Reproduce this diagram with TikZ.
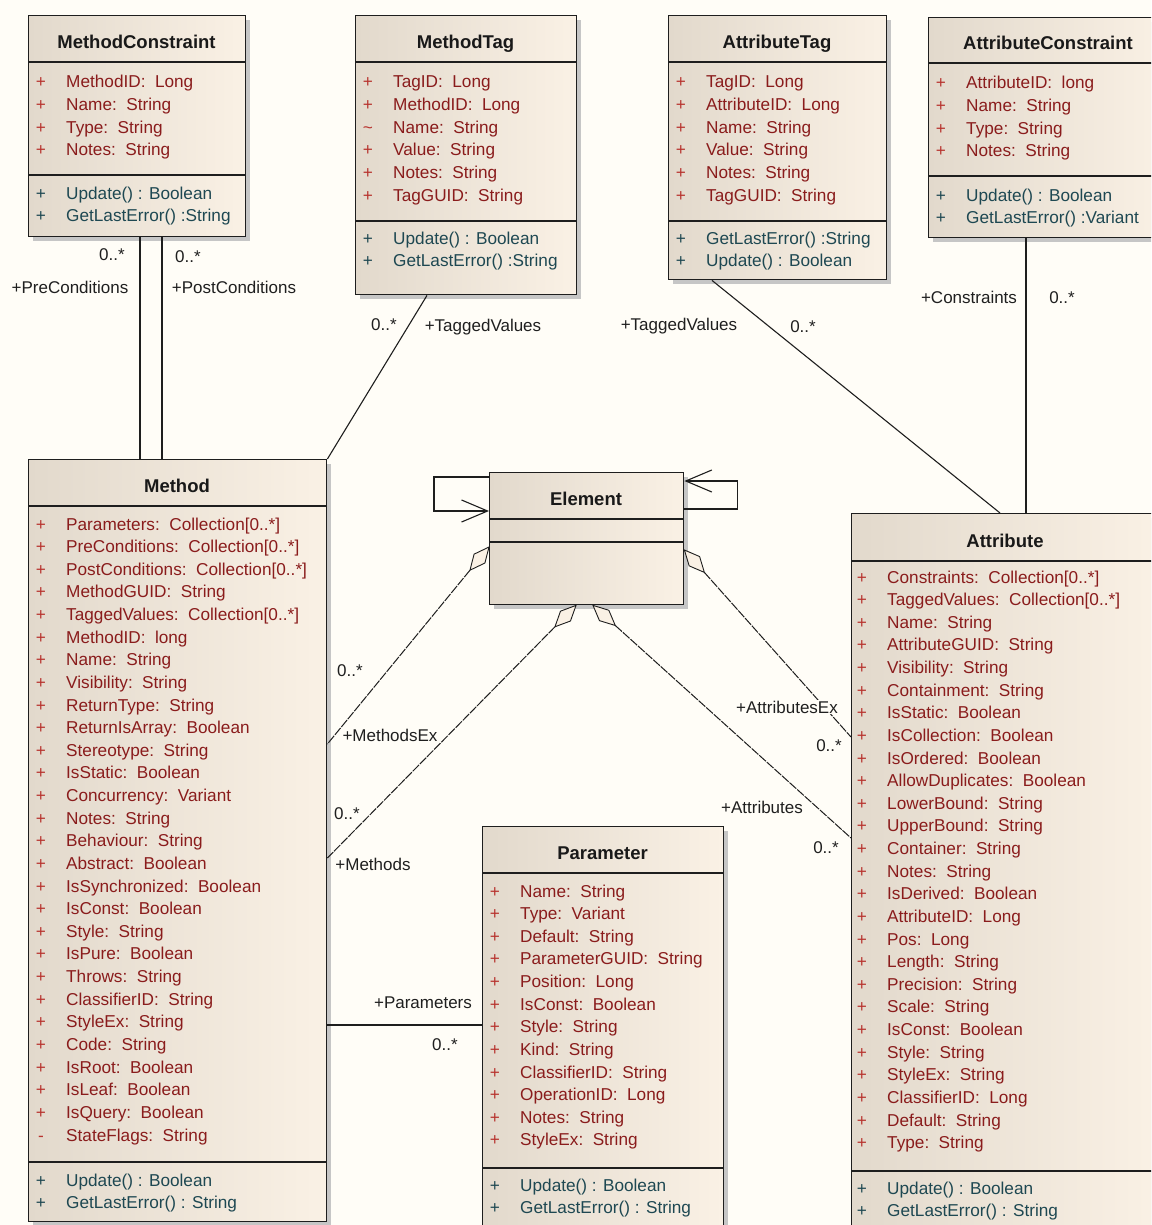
\documentclass[tikz,border=0pt]{standalone}
\usepackage{fontspec}
\setmainfont{Liberation Sans}
\usetikzlibrary{calc,arrows.meta}
\definecolor{bgc}{HTML}{FFFDF7}
\definecolor{boxL}{HTML}{E2D9CC}
\definecolor{boxR}{HTML}{FAF1E5}
\definecolor{attrc}{HTML}{8A1C1C}
\definecolor{attrp}{HTML}{B8332E}
\definecolor{opc}{HTML}{1E4852}
\definecolor{shadowc}{HTML}{C6C6C6}
\definecolor{linec}{HTML}{1E1E1E}
\newcommand{\tsep}{:\hspace{0.55em}}
% #1 name, #2 left, #3 top, #4 right, #5 bottom, #6 title, #7 header line y, #8 separator y
\newcommand{\umlclass}[8]{%
  \fill[shadowc] ({#2+5},{#3+5}) rectangle ({#4+5},{#5+5});
  \node[classbox, anchor=north west, minimum width={(#4-#2)*1pt}, minimum height={(#5-#3)*1pt}] (#1) at (#2,#3) {};
  \draw[sepline] (#2,#7) -- (#4,#7);
  \draw[sepline] (#2,#8) -- (#4,#8);
  \node[titletext] (#1-title) at ({(#2+#4)/2},{(#3+#7)/2+10}) {#6};
}
% #1 left x, #2 first centre y, #3 text colour, #4 mark colour, #5 list
\newcommand{\umlmembers}[5]{%
  \foreach \mvis/\mtxt [count=\mi from 0] in {#5}{
    \node[mtext,text=#4,anchor=base] at ({#1+13},{#2+6+22.63*\mi}) {\mvis};
    \node[mtext,text=#3,anchor=base west] at ({#1+38},{#2+6+22.63*\mi}) {\mtxt};
  }}
\newcommand{\aggr}[3]{%
  \coordinate (#3m) at ($(#1)!15pt!(#2)$);
  \coordinate (#3e) at ($(#1)!30pt!(#2)$);
  \draw[aggline] (#3e) -- (#2);
  \draw[diam] (#1) -- ($(#3m)!7pt!90:(#2)$) -- (#3e) -- ($(#3m)!7pt!-90:(#2)$) -- cycle;
}
\begin{document}
\begin{tikzpicture}[x=1pt,y=-1pt,
  classbox/.style={draw=linec, line width=1.4pt, left color=boxL, right color=boxR, inner sep=0pt},
  sepline/.style={draw=linec, line width=1.2pt},
  titletext/.style={anchor=base, inner sep=0pt, text=black!90, font=\fontsize{18.5}{21}\selectfont\bfseries},
  mtext/.style={inner sep=0pt, font=\fontsize{17.2}{19}\selectfont},
  conn/.style={draw=linec, line width=1.1pt},
  aggline/.style={draw=linec, line width=1pt, dash pattern=on 9pt off 1.2pt},
  diam/.style={draw=linec, line width=0.9pt, fill=boxR},
  lbl/.style={inner sep=1pt, fill=bgc, text=black!88, font=\fontsize{17}{19}\selectfont},
  barb/.style={-{Straight Barb[length=26pt,width=22pt]}}
]
\useasboundingbox (0,0) rectangle (1151,1225);
\fill[bgc] (0,0) rectangle (1151,1225);
\begin{scope}
\clip (0,0) rectangle (1151,1225);

% ---------- classes ----------
\umlclass{mc}{28}{15}{245}{236}{MethodConstraint}{62}{175}
\umlmembers{28}{82}{attrc}{attrp}{{+}/{MethodID\tsep Long},{+}/{Name\tsep String},{+}/{Type\tsep String},{+}/{Notes\tsep String}}
\umlmembers{28}{193}{opc}{opc}{{+}/{Update() : Boolean},{+}/{GetLastError() :String}}

\umlclass{mt}{355}{15}{576}{294}{MethodTag}{62}{221}
\umlmembers{355}{82}{attrc}{attrp}{{+}/{TagID\tsep Long},{+}/{MethodID\tsep Long},{\textasciitilde}/{Name\tsep String},{+}/{Value\tsep String},{+}/{Notes\tsep String},{+}/{TagGUID\tsep String}}
\umlmembers{355}{238}{opc}{opc}{{+}/{Update() : Boolean},{+}/{GetLastError() :String}}

\umlclass{at}{668}{15}{886}{279}{AttributeTag}{62}{221}
\umlmembers{668}{82}{attrc}{attrp}{{+}/{TagID\tsep Long},{+}/{AttributeID\tsep Long},{+}/{Name\tsep String},{+}/{Value\tsep String},{+}/{Notes\tsep String},{+}/{TagGUID\tsep String}}
\umlmembers{668}{238}{opc}{opc}{{+}/{GetLastError() :String},{+}/{Update() : Boolean}}

\umlclass{ac}{928}{17}{1168}{237}{AttributeConstraint}{63}{176}
\umlmembers{928}{83}{attrc}{attrp}{{+}/{AttributeID\tsep long},{+}/{Name\tsep String},{+}/{Type\tsep String},{+}/{Notes\tsep String}}
\umlmembers{928}{195}{opc}{opc}{{+}/{Update() : Boolean},{+}/{GetLastError() :Variant}}

\umlclass{method}{28}{459}{326}{1221}{Method}{506}{1162}
\umlmembers{28}{524}{attrc}{attrp}{{+}/{Parameters\tsep Collection[0..*]},{+}/{PreConditions\tsep Collection[0..*]},{+}/{PostConditions\tsep Collection[0..*]},{+}/{MethodGUID\tsep String},{+}/{TaggedValues\tsep Collection[0..*]},{+}/{MethodID\tsep long},{+}/{Name\tsep String},{+}/{Visibility\tsep String},{+}/{ReturnType\tsep String},{+}/{ReturnIsArray\tsep Boolean},{+}/{Stereotype\tsep String},{+}/{IsStatic\tsep Boolean},{+}/{Concurrency\tsep Variant},{+}/{Notes\tsep String},{+}/{Behaviour\tsep String},{+}/{Abstract\tsep Boolean},{+}/{IsSynchronized\tsep Boolean},{+}/{IsConst\tsep Boolean},{+}/{Style\tsep String},{+}/{IsPure\tsep Boolean},{+}/{Throws\tsep String},{+}/{ClassifierID\tsep String},{+}/{StyleEx\tsep String},{+}/{Code\tsep String},{+}/{IsRoot\tsep Boolean},{+}/{IsLeaf\tsep Boolean},{+}/{IsQuery\tsep Boolean},{-}/{StateFlags\tsep String}}
\umlmembers{28}{1180}{opc}{opc}{{+}/{Update() : Boolean},{+}/{GetLastError() : String}}

\umlclass{el}{489}{472}{683}{604}{Element}{519}{542}

\umlclass{attr}{851}{513}{1159}{1230}{Attribute}{561}{1171}
\umlmembers{849}{577}{attrc}{attrp}{{+}/{Constraints\tsep Collection[0..*]},{+}/{TaggedValues\tsep Collection[0..*]},{+}/{Name\tsep String},{+}/{AttributeGUID\tsep String},{+}/{Visibility\tsep String},{+}/{Containment\tsep String},{+}/{IsStatic\tsep Boolean},{+}/{IsCollection\tsep Boolean},{+}/{IsOrdered\tsep Boolean},{+}/{AllowDuplicates\tsep Boolean},{+}/{LowerBound\tsep String},{+}/{UpperBound\tsep String},{+}/{Container\tsep String},{+}/{Notes\tsep String},{+}/{IsDerived\tsep Boolean},{+}/{AttributeID\tsep Long},{+}/{Pos\tsep Long},{+}/{Length\tsep String},{+}/{Precision\tsep String},{+}/{Scale\tsep String},{+}/{IsConst\tsep Boolean},{+}/{Style\tsep String},{+}/{StyleEx\tsep String},{+}/{ClassifierID\tsep Long},{+}/{Default\tsep String},{+}/{Type\tsep String}}
\umlmembers{849}{1188}{opc}{opc}{{+}/{Update() : Boolean},{+}/{GetLastError() : String}}

\umlclass{param}{482}{826}{723}{1230}{Parameter}{873}{1168}
\umlmembers{482}{891}{attrc}{attrp}{{+}/{Name\tsep String},{+}/{Type\tsep Variant},{+}/{Default\tsep String},{+}/{ParameterGUID\tsep String},{+}/{Position\tsep Long},{+}/{IsConst\tsep Boolean},{+}/{Style\tsep String},{+}/{Kind\tsep String},{+}/{ClassifierID\tsep String},{+}/{OperationID\tsep Long},{+}/{Notes\tsep String},{+}/{StyleEx\tsep String}}
\umlmembers{482}{1185}{opc}{opc}{{+}/{Update() : Boolean},{+}/{GetLastError() : String}}

% ---------- connectors ----------
\coordinate (xa) at (140,0);
\coordinate (xb) at (162,0);
\coordinate (xc) at (1026,0);
\coordinate (yp) at (0,1025);
\draw[conn] (mc.south -| xa) -- (method.north -| xa);
\draw[conn] (mc.south -| xb) -- (method.north -| xb);
\draw[conn] ([xshift=72pt]mt.south west) -- (method.north east);
\draw[conn] ([xshift=44pt]at.south west) -- ([xshift=149pt]attr.north west);
\draw[conn] (ac.south -| xc) -- (attr.north -| xc);
\draw[conn] (method.east |- yp) -- (param.west |- yp);

% self associations on Element
\draw[conn, barb] ([yshift=-5pt]el.north west) -- ++(-55,0) -- ++(0,34) -- ++(55,0);
\draw[conn, barb] ([yshift=-37pt]el.north east) -- ++(53,0) -- ++(0,-28) -- ++(-53,0);

% aggregations
\coordinate (t1) at ([yshift=-75pt]el.north west);
\coordinate (t2) at ([xshift=87pt]el.south west);
\coordinate (t3) at ([xshift=104pt]el.south west);
\coordinate (t4) at ([yshift=-78pt]el.north east);
\coordinate (q1) at ([yshift=-285pt]method.north east);
\coordinate (q2) at ([yshift=-399pt]method.north east);
\coordinate (q3) at ([yshift=-325pt]attr.north west);
\coordinate (q4) at ([yshift=-224pt]attr.north west);
\aggr{t1}{q1}{ga}
\aggr{t2}{q2}{gb}
\aggr{t3}{q3}{gc}
\aggr{t4}{q4}{gd}

% ---------- labels ----------
\node[lbl] (l1) at (112,255) {0..*};
\node[lbl] (l2) at (188,257) {0..*};
\node[lbl] (l3) at (70,287) {+PreConditions};
\node[lbl] (l4) at (234,287) {+PostConditions};
\node[lbl] (l5) at (384,325) {0..*};
\node[lbl] (l6) at (483,327) {+TaggedValues};
\node[lbl] (l7) at (679,326) {+TaggedValues};
\node[lbl] (l8) at (803,327) {0..*};
\node[lbl] (l9) at (969,297) {+Constraints};
\node[lbl] (l10) at (1062,298) {0..*};
\node[lbl] (l11) at (350,671) {0..*};
\node[lbl] (l12) at (390,735) {+MethodsEx};
\node[lbl] (l13) at (347,814) {0..*};
\node[lbl] (l14) at (373,864) {+Methods};
\node[lbl] (l15) at (787,707) {+AttributesEx};
\node[lbl] (l16) at (829,746) {0..*};
\node[lbl] (l17) at (762,807) {+Attributes};
\node[lbl] (l18) at (826,848) {0..*};
\node[lbl] (l19) at (423,1003) {+Parameters};
\node[lbl] (l20) at (445,1045) {0..*};
\end{scope}
\end{tikzpicture}
\end{document}
